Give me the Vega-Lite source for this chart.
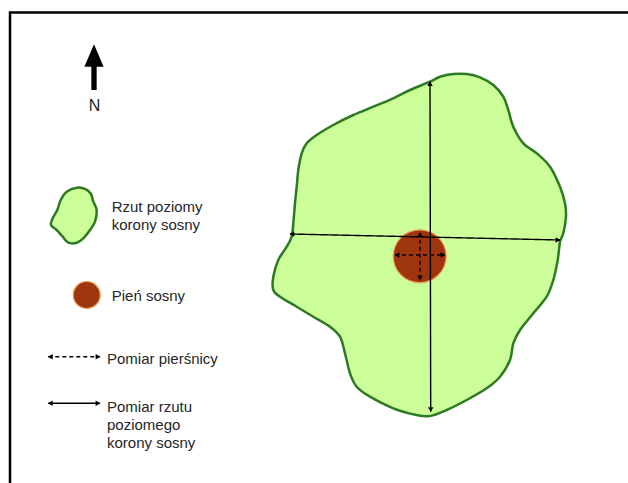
{
  "$schema": "https://vega.github.io/schema/vega-lite/v6.json",
  "width": 628,
  "height": 483,
  "autosize": {"type": "none"},
  "padding": 0,
  "background": "white",
  "config": {"view": {"stroke": null}},
  "datasets": {
    "frame": [{"x": 10, "y": 12.5, "x2": 700, "y2": 600}],
    "shapes": [
      {"shape": "korona", "i": 1, "x": 430, "y": 81.7},
      {"shape": "korona", "i": 2, "x": 440, "y": 76.7},
      {"shape": "korona", "i": 3, "x": 453.3, "y": 74},
      {"shape": "korona", "i": 4, "x": 466.7, "y": 74},
      {"shape": "korona", "i": 5, "x": 480, "y": 77.3},
      {"shape": "korona", "i": 6, "x": 493.3, "y": 85},
      {"shape": "korona", "i": 7, "x": 503.3, "y": 96.7},
      {"shape": "korona", "i": 8, "x": 508.3, "y": 110},
      {"shape": "korona", "i": 9, "x": 513.3, "y": 126.7},
      {"shape": "korona", "i": 10, "x": 523.3, "y": 143.3},
      {"shape": "korona", "i": 11, "x": 536.7, "y": 153.3},
      {"shape": "korona", "i": 12, "x": 550, "y": 166.7},
      {"shape": "korona", "i": 13, "x": 560, "y": 186.7},
      {"shape": "korona", "i": 14, "x": 565, "y": 203.3},
      {"shape": "korona", "i": 15, "x": 566, "y": 216.7},
      {"shape": "korona", "i": 16, "x": 563.3, "y": 233.3},
      {"shape": "korona", "i": 17, "x": 560, "y": 241.7},
      {"shape": "korona", "i": 18, "x": 557.7, "y": 260},
      {"shape": "korona", "i": 19, "x": 553.3, "y": 280},
      {"shape": "korona", "i": 20, "x": 546.7, "y": 296.7},
      {"shape": "korona", "i": 21, "x": 533.3, "y": 313.3},
      {"shape": "korona", "i": 22, "x": 520, "y": 330},
      {"shape": "korona", "i": 23, "x": 513.3, "y": 343.3},
      {"shape": "korona", "i": 24, "x": 510, "y": 360},
      {"shape": "korona", "i": 25, "x": 500, "y": 376.7},
      {"shape": "korona", "i": 26, "x": 486.7, "y": 388.3},
      {"shape": "korona", "i": 27, "x": 466.7, "y": 400},
      {"shape": "korona", "i": 28, "x": 446.7, "y": 410},
      {"shape": "korona", "i": 29, "x": 430, "y": 416},
      {"shape": "korona", "i": 30, "x": 416.7, "y": 415},
      {"shape": "korona", "i": 31, "x": 393.3, "y": 408.3},
      {"shape": "korona", "i": 32, "x": 370, "y": 396.7},
      {"shape": "korona", "i": 33, "x": 356.7, "y": 386.7},
      {"shape": "korona", "i": 34, "x": 350, "y": 373.3},
      {"shape": "korona", "i": 35, "x": 345, "y": 353.3},
      {"shape": "korona", "i": 36, "x": 340, "y": 336.7},
      {"shape": "korona", "i": 37, "x": 330, "y": 326.7},
      {"shape": "korona", "i": 38, "x": 313.3, "y": 316.7},
      {"shape": "korona", "i": 39, "x": 296.7, "y": 306.7},
      {"shape": "korona", "i": 40, "x": 280, "y": 296.7},
      {"shape": "korona", "i": 41, "x": 273.3, "y": 290},
      {"shape": "korona", "i": 42, "x": 273.3, "y": 276.7},
      {"shape": "korona", "i": 43, "x": 278.3, "y": 260},
      {"shape": "korona", "i": 44, "x": 286.7, "y": 246.7},
      {"shape": "korona", "i": 45, "x": 291.7, "y": 236.7},
      {"shape": "korona", "i": 46, "x": 293.3, "y": 223.3},
      {"shape": "korona", "i": 47, "x": 295, "y": 203.3},
      {"shape": "korona", "i": 48, "x": 296.7, "y": 186.7},
      {"shape": "korona", "i": 49, "x": 298.3, "y": 170},
      {"shape": "korona", "i": 50, "x": 301.7, "y": 153.3},
      {"shape": "korona", "i": 51, "x": 306.7, "y": 143.3},
      {"shape": "korona", "i": 52, "x": 316.7, "y": 135},
      {"shape": "korona", "i": 53, "x": 333.3, "y": 125},
      {"shape": "korona", "i": 54, "x": 353.3, "y": 115},
      {"shape": "korona", "i": 55, "x": 373.3, "y": 106.7},
      {"shape": "korona", "i": 56, "x": 393.3, "y": 98.3},
      {"shape": "korona", "i": 57, "x": 410, "y": 90},
      {"shape": "legenda", "i": 1, "x": 76.7, "y": 187.7},
      {"shape": "legenda", "i": 2, "x": 86, "y": 189.3},
      {"shape": "legenda", "i": 3, "x": 91, "y": 194},
      {"shape": "legenda", "i": 4, "x": 93.3, "y": 201.7},
      {"shape": "legenda", "i": 5, "x": 96.7, "y": 210},
      {"shape": "legenda", "i": 6, "x": 95, "y": 221.7},
      {"shape": "legenda", "i": 7, "x": 90, "y": 230},
      {"shape": "legenda", "i": 8, "x": 83.3, "y": 238.3},
      {"shape": "legenda", "i": 9, "x": 76.7, "y": 242.7},
      {"shape": "legenda", "i": 10, "x": 68.3, "y": 242.7},
      {"shape": "legenda", "i": 11, "x": 62.7, "y": 236.7},
      {"shape": "legenda", "i": 12, "x": 56.7, "y": 230},
      {"shape": "legenda", "i": 13, "x": 51, "y": 225},
      {"shape": "legenda", "i": 14, "x": 52.7, "y": 218.3},
      {"shape": "legenda", "i": 15, "x": 57.3, "y": 210},
      {"shape": "legenda", "i": 16, "x": 60.7, "y": 200},
      {"shape": "legenda", "i": 17, "x": 66.7, "y": 191.7}
    ],
    "trunks": [
      {"item": "pień", "x": 419.7, "y": 256.3},
      {"item": "legenda", "x": 86.7, "y": 295}
    ],
    "segments": [
      {"kind": "korona", "x": 290, "y": 234, "x2": 560, "y2": 240},
      {"kind": "korona", "x": 430, "y": 81.7, "x2": 430.7, "y2": 411.7},
      {"kind": "pierśnica", "x": 395, "y": 255, "x2": 445, "y2": 255},
      {"kind": "pierśnica", "x": 420, "y": 232.7, "x2": 420, "y2": 280},
      {"kind": "pierśnica", "x": 48.3, "y": 356.7, "x2": 100, "y2": 356.7},
      {"kind": "korona", "x": 48.3, "y": 403.3, "x2": 100, "y2": 403.3}
    ],
    "heads": [
      {"dir": "left", "x": 292, "y": 234},
      {"dir": "right", "x": 558, "y": 240},
      {"dir": "up", "x": 430, "y": 83.7},
      {"dir": "down", "x": 430.7, "y": 409.7},
      {"dir": "left", "x": 397, "y": 255},
      {"dir": "right", "x": 443, "y": 255},
      {"dir": "up", "x": 420, "y": 234.7},
      {"dir": "down", "x": 420, "y": 278},
      {"dir": "left", "x": 50.3, "y": 356.7},
      {"dir": "right", "x": 98, "y": 356.7},
      {"dir": "left", "x": 50.3, "y": 403.3},
      {"dir": "right", "x": 98, "y": 403.3}
    ],
    "north": [{"x": 94, "y": 67.2}],
    "northLabel": [{"x": 94.5, "y": 110.5, "text": "N"}],
    "labels": [
      {"x": 111.7, "y": 211.7, "text": "Rzut poziomy"},
      {"x": 111.7, "y": 230.2, "text": "korony sosny"},
      {"x": 111.7, "y": 300.7, "text": "Pień sosny"},
      {"x": 107, "y": 364.3, "text": "Pomiar pierśnicy"},
      {"x": 107, "y": 411.7, "text": "Pomiar rzutu"},
      {"x": 107, "y": 430, "text": "poziomego"},
      {"x": 107, "y": 448.3, "text": "korony sosny"}
    ]
  },
  "layer": [
    {
      "data": {"name": "frame"},
      "mark": {"type": "rect", "fill": null, "stroke": "black", "strokeWidth": 2.5, "clip": false},
      "encoding": {
        "x": {"field": "x", "type": "quantitative", "scale": {"domain": [0, 628]}, "axis": null},
        "y": {"field": "y", "type": "quantitative", "scale": {"domain": [0, 483], "reverse": true}, "axis": null},
        "x2": {"field": "x2"},
        "y2": {"field": "y2"}
      }
    },
    {
      "data": {"name": "shapes"},
      "mark": {"type": "line", "interpolate": "cardinal-closed", "fill": "#CCFF99", "stroke": "#2E7A22", "strokeWidth": 2.5, "strokeJoin": "round"},
      "encoding": {
        "x": {"field": "x", "type": "quantitative", "scale": {"domain": [0, 628]}, "axis": null},
        "y": {"field": "y", "type": "quantitative", "scale": {"domain": [0, 483], "reverse": true}, "axis": null},
        "detail": {"field": "shape"},
        "order": {"field": "i", "type": "quantitative"}
      }
    },
    {
      "data": {"name": "trunks"},
      "mark": {"type": "point", "shape": "circle", "filled": true, "fill": "#9E350F", "stroke": "#EDA55A", "strokeWidth": 1.2, "opacity": 1},
      "encoding": {
        "x": {"field": "x", "type": "quantitative", "scale": {"domain": [0, 628]}, "axis": null},
        "y": {"field": "y", "type": "quantitative", "scale": {"domain": [0, 483], "reverse": true}, "axis": null},
        "size": {"field": "item", "type": "nominal", "scale": {"domain": ["pień", "legenda"], "range": [2809, 729]}, "legend": null}
      }
    },
    {
      "data": {"name": "segments"},
      "mark": {"type": "rule", "color": "black", "strokeWidth": 1.4},
      "encoding": {
        "x": {"field": "x", "type": "quantitative", "scale": {"domain": [0, 628]}, "axis": null},
        "y": {"field": "y", "type": "quantitative", "scale": {"domain": [0, 483], "reverse": true}, "axis": null},
        "x2": {"field": "x2"},
        "y2": {"field": "y2"},
        "strokeDash": {"field": "kind", "type": "nominal", "scale": {"domain": ["korona", "pierśnica"], "range": [[1, 0], [4, 3]]}, "legend": null}
      }
    },
    {
      "data": {"name": "heads"},
      "mark": {"type": "point", "filled": true, "color": "black", "opacity": 1, "size": 30},
      "encoding": {
        "x": {"field": "x", "type": "quantitative", "scale": {"domain": [0, 628]}, "axis": null},
        "y": {"field": "y", "type": "quantitative", "scale": {"domain": [0, 483], "reverse": true}, "axis": null},
        "shape": {"field": "dir", "type": "nominal", "scale": {"domain": ["left", "right", "up", "down"], "range": ["triangle-left", "triangle-right", "triangle-up", "triangle-down"]}, "legend": null}
      }
    },
    {
      "data": {"name": "north"},
      "mark": {"type": "point", "filled": true, "color": "black", "opacity": 1, "size": 2089, "shape": "M0,-1L0.42,-0.02L0.116,-0.02L0.116,1L-0.116,1L-0.116,-0.02L-0.42,-0.02Z"},
      "encoding": {
        "x": {"field": "x", "type": "quantitative", "scale": {"domain": [0, 628]}, "axis": null},
        "y": {"field": "y", "type": "quantitative", "scale": {"domain": [0, 483], "reverse": true}, "axis": null}
      }
    },
    {
      "data": {"name": "northLabel"},
      "mark": {"type": "text", "font": "Liberation Sans", "fontSize": 16, "align": "center", "baseline": "alphabetic", "color": "#222"},
      "encoding": {
        "x": {"field": "x", "type": "quantitative", "scale": {"domain": [0, 628]}, "axis": null},
        "y": {"field": "y", "type": "quantitative", "scale": {"domain": [0, 483], "reverse": true}, "axis": null},
        "text": {"field": "text"}
      }
    },
    {
      "data": {"name": "labels"},
      "mark": {"type": "text", "font": "Liberation Sans", "fontSize": 15, "align": "left", "baseline": "alphabetic", "color": "#262626"},
      "encoding": {
        "x": {"field": "x", "type": "quantitative", "scale": {"domain": [0, 628]}, "axis": null},
        "y": {"field": "y", "type": "quantitative", "scale": {"domain": [0, 483], "reverse": true}, "axis": null},
        "text": {"field": "text"}
      }
    }
  ]
}
